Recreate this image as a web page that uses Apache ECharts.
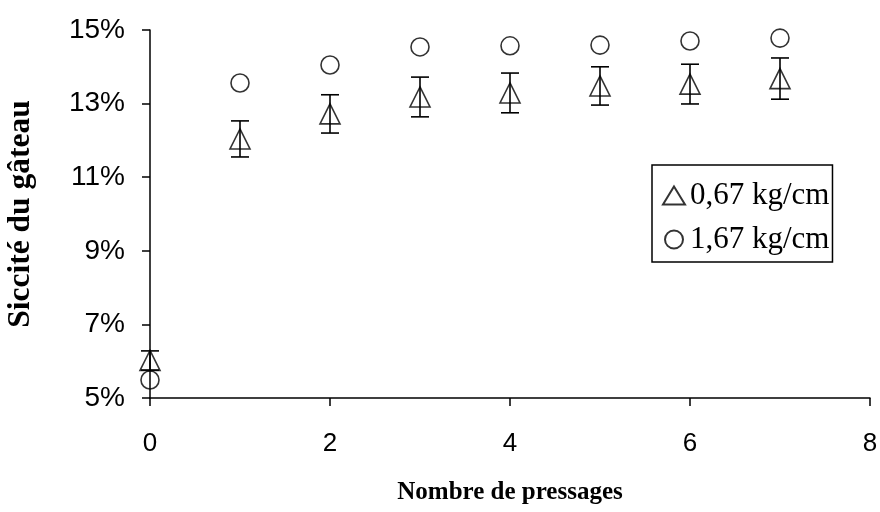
<!DOCTYPE html>
<html>
<head>
<meta charset="utf-8">
<script src="https://cdn.jsdelivr.net/npm/echarts@6/dist/echarts.min.js"></script>
<style>html,body{margin:0;padding:0;background:#fff}#c{width:880px;height:512px}</style>
</head>
<body>
<div id="c"></div>
<script>
// Data
const pressages = [0, 1, 2, 3, 4, 5, 6, 7];
const sicc067 = [6.02, 12.04, 12.72, 13.18, 13.29, 13.48, 13.53, 13.68];
const err067 = [0.26, 0.49, 0.52, 0.54, 0.54, 0.52, 0.54, 0.56];
const sicc167 = [5.49, 13.56, 14.05, 14.54, 14.57, 14.59, 14.70, 14.78];
const seriesNames = ['0,67 kg/cm', '1,67 kg/cm'];
const yTicks = [5, 7, 9, 11, 13, 15];
const xTicks = [0, 2, 4, 6, 8];

const chart = echarts.init(document.getElementById('c'), null, {renderer: 'canvas'});
const serifFont = '"Liberation Serif", "Times New Roman", serif';
const sansFont = '"Liberation Sans", Arial, sans-serif';

const errData = pressages.map((x, i) => [x, sicc067[i], err067[i]]);

chart.setOption({
  animation: false,
  backgroundColor: '#fff',
  grid: {left: 150, right: 10, top: 30, bottom: 114, containLabel: false, outerBoundsMode: 'none'},
  xAxis: {
    type: 'value',
    min: xTicks[0], max: xTicks[xTicks.length - 1], interval: 2,
    name: 'Nombre de pressages',
    nameLocation: 'middle', nameGap: 82,
    nameTextStyle: {fontFamily: serifFont, fontWeight: 'bold', fontSize: 25, color: '#000'},
    axisLine: {onZero: false, lineStyle: {color: '#000', width: 1.5}},
    axisTick: {show: true, inside: false, length: 8, lineStyle: {color: '#000', width: 1.5}},
    axisLabel: {fontFamily: sansFont, fontSize: 26, color: '#000', margin: 33},
    splitLine: {show: false}
  },
  yAxis: {
    type: 'value',
    min: yTicks[0], max: yTicks[yTicks.length - 1], interval: 2,
    name: 'Siccité du gâteau',
    nameLocation: 'middle', nameGap: 113, nameRotate: 90,
    nameTextStyle: {fontFamily: serifFont, fontWeight: 'bold', fontSize: 31.5, color: '#000'},
    axisLine: {show: true, lineStyle: {color: '#000', width: 1.5}},
    axisTick: {show: true, inside: false, length: 8, lineStyle: {color: '#000', width: 1.5}},
    axisLabel: {fontFamily: sansFont, fontSize: 28, color: '#000', margin: 25, formatter: '{value}%'},
    splitLine: {show: false}
  },
  legend: {
    data: [
      {name: seriesNames[0], icon: 'triangle'},
      {name: seriesNames[1], icon: 'circle'}
    ],
    orient: 'vertical',
    left: 652, top: 165,
    borderColor: '#000', borderWidth: 1.5,
    padding: [15, 3, 7, 10],
    itemWidth: 22, itemHeight: 18, itemGap: 13,
    textStyle: {fontFamily: serifFont, fontSize: 31, color: '#000'}
  },
  series: [
    {
      type: 'custom',
      name: 'err',
      data: errData,
      z: 2,
      renderItem: function (params, api) {
        const x = api.value(0), y = api.value(1), e = api.value(2);
        const top = api.coord([x, y + e]);
        const bot = api.coord([x, y - e]);
        const h = 9;
        const st = {stroke: '#000', lineWidth: 1.6};
        return {
          type: 'group',
          children: [
            {type: 'line', shape: {x1: top[0], y1: top[1], x2: bot[0], y2: bot[1]}, style: st},
            {type: 'line', shape: {x1: top[0] - h, y1: top[1], x2: top[0] + h, y2: top[1]}, style: st},
            {type: 'line', shape: {x1: bot[0] - h, y1: bot[1], x2: bot[0] + h, y2: bot[1]}, style: st}
          ]
        };
      }
    },
    {
      type: 'scatter',
      name: seriesNames[0],
      data: pressages.map((x, i) => [x, sicc067[i]]),
      symbol: 'triangle',
      symbolSize: [20, 20],
      z: 3,
      itemStyle: {color: 'rgba(255,255,255,0)', borderColor: '#000', borderWidth: 1.6}
    },
    {
      type: 'scatter',
      name: seriesNames[1],
      data: pressages.map((x, i) => [x, sicc167[i]]),
      symbol: 'circle',
      symbolSize: 18,
      z: 3,
      itemStyle: {color: 'rgba(255,255,255,0)', borderColor: '#000', borderWidth: 1.6}
    }
  ]
});
</script>
</body>
</html>
